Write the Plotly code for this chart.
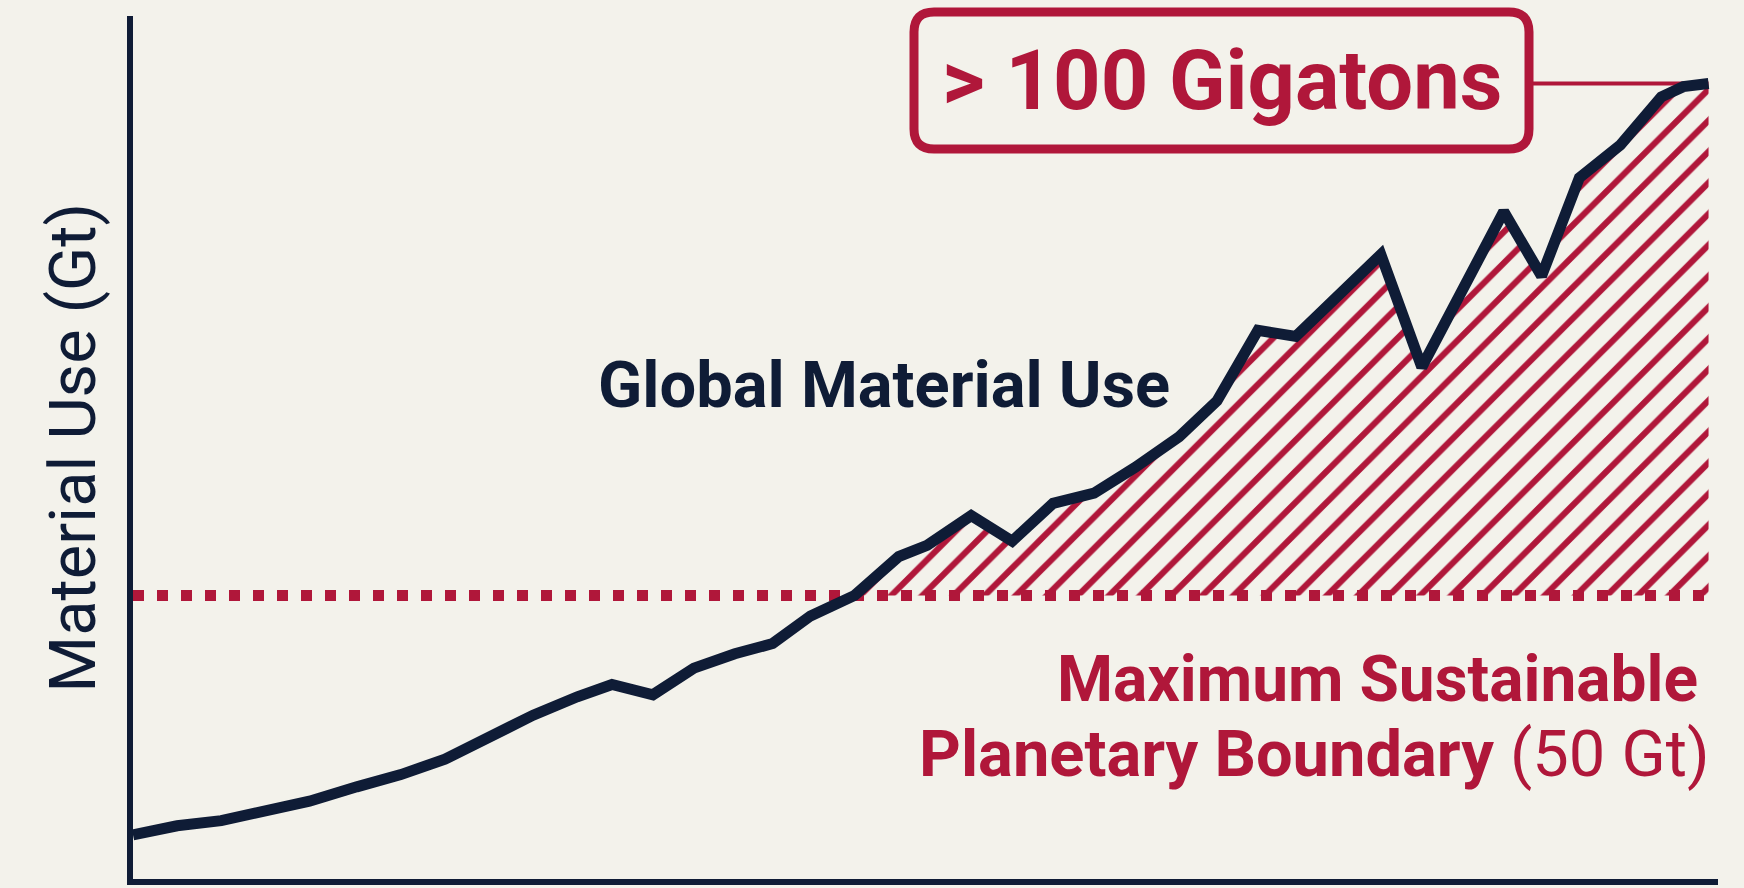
import plotly.graph_objects as go

# ---- data ----
years = [1970.0, 1971.4, 1972.8, 1974.2, 1975.6, 1977.1, 1978.5, 1979.9, 1981.3, 1982.7,
         1984.1, 1985.2, 1986.5, 1987.8, 1989.1, 1990.3, 1991.5, 1992.9, 1994.3, 1995.2,
         1996.6, 1997.9, 1999.2, 2000.5, 2001.8, 2003.2, 2004.4, 2005.7, 2006.9, 2008.3,
         2009.6, 2010.9, 2012.2, 2013.5, 2014.7, 2015.9, 2017.2, 2018.5, 2019.2, 2020.0]
material_use = [26.6, 27.5, 28.0, 28.9, 29.9, 31.3, 32.5, 34.0, 36.1, 38.3,
                40.1, 41.3, 40.3, 42.9, 44.3, 45.3, 48.0, 50.0, 53.8, 54.9,
                57.8, 55.3, 59.0, 60.0, 62.5, 65.5, 69.0, 75.9, 75.3, 79.3,
                83.3, 72.3, 79.9, 87.5, 81.2, 90.8, 94.0, 98.7, 99.7, 100.0]
boundary = 50

series_label = "Global Material Use"
callout_label = "> 100 Gigatons"
boundary_line1 = "Maximum Sustainable"
boundary_line2 = "Planetary Boundary"
boundary_value_label = "(50 Gt)"
y_title = "Material Use (Gt)"

# ---- style ----
BG = "#f3f2eb"
NAVY = "#0f1c36"
RED = "#b0173a"
FONT = "Roboto, sans-serif"

W, H = 1744, 888
L, R, T, B = 133, 26, 16, 9
XR = [1970, 2020.3]
YR = [22.3, 106.6]
PW, PH = W - L - R, H - T - B


def px_x(px):
    return (px - L) / PW


def px_y(py):
    return (H - B - py) / PH


def data_x(x):
    return (x - XR[0]) / (XR[1] - XR[0])


def data_y(y):
    return (y - YR[0]) / (YR[1] - YR[0])


# hatched region above the boundary
idx = next(i for i, v in enumerate(material_use) if v >= boundary)
if material_use[idx] == boundary or idx == 0:
    xc = years[idx]
else:
    x0, x1 = years[idx - 1], years[idx]
    y0, y1 = material_use[idx - 1], material_use[idx]
    xc = x0 + (boundary - y0) * (x1 - x0) / (y1 - y0)
hx = [xc] + years[idx:] + [years[-1], xc]
hy = [boundary] + material_use[idx:] + [boundary, boundary]

fig = go.Figure()
fig.add_trace(go.Scatter(
    x=hx, y=hy, mode="lines", fill="toself", line=dict(width=0, color="rgba(0,0,0,0)"),
    fillcolor="rgba(0,0,0,0)",
    fillpattern=dict(shape="/", fgcolor=RED, fgopacity=1, bgcolor="rgba(0,0,0,0)",
                     size=22, solidity=0.28),
    hoverinfo="skip", showlegend=False))
fig.add_trace(go.Scatter(
    x=[XR[0], years[-1]], y=[boundary, boundary], mode="lines",
    line=dict(color=RED, width=11, dash="11px,13px"), showlegend=False, hoverinfo="skip"))
fig.add_trace(go.Scatter(
    x=years, y=material_use, mode="lines", line=dict(color=NAVY, width=11),
    showlegend=False, name=series_label))

# rounded callout box
bx0, bx1, by0, by1, rr = 914, 1529, 12, 149, 20
X0, X1 = px_x(bx0), px_x(bx1)
Y0, Y1 = px_y(by0), px_y(by1)
rx, ry = rr / PW, rr / PH
path = (f"M {X0+rx},{Y0} L {X1-rx},{Y0} Q {X1},{Y0} {X1},{Y0-ry} "
        f"L {X1},{Y1+ry} Q {X1},{Y1} {X1-rx},{Y1} L {X0+rx},{Y1} "
        f"Q {X0},{Y1} {X0},{Y1+ry} L {X0},{Y0-ry} Q {X0},{Y0} {X0+rx},{Y0} Z")
shapes = [
    dict(type="line", xref="paper", yref="paper", x0=X1, x1=data_x(years[-1]),
         y0=data_y(material_use[-1]), y1=data_y(material_use[-1]),
         line=dict(color=RED, width=4), layer="below"),
    dict(type="path", xref="paper", yref="paper", path=path, fillcolor=BG,
         line=dict(color=RED, width=9)),
]

annotations = [
    dict(text=f"<b>{callout_label}</b>", xref="paper", yref="paper",
         x=(X0 + X1) / 2, y=(Y0 + Y1) / 2, xanchor="center", yanchor="middle",
         showarrow=False, font=dict(family=FONT, size=83, color=RED)),
    dict(text=f"<b>{series_label}</b>", xref="paper", yref="paper",
         x=px_x(884), y=px_y(385), xanchor="center", yanchor="middle",
         showarrow=False, font=dict(family=FONT, size=65, color=NAVY)),
    dict(text=f"<b>{boundary_line1}</b>", xref="paper", yref="paper",
         x=px_x(1700), y=px_y(679), xanchor="right", yanchor="middle",
         showarrow=False, font=dict(family=FONT, size=64, color=RED)),
    dict(text=f"<b>{boundary_line2}</b> {boundary_value_label}", xref="paper", yref="paper",
         x=px_x(1712), y=px_y(754), xanchor="right", yanchor="middle",
         showarrow=False, font=dict(family=FONT, size=65, color=RED)),
    dict(text=y_title, xref="paper", yref="paper", x=px_x(72), y=0.5,
         xanchor="center", yanchor="middle", textangle=-90,
         showarrow=False, font=dict(family=FONT, size=65, color=NAVY)),
]

fig.update_layout(
    width=W, height=H, margin=dict(l=L, r=R, t=T, b=B),
    paper_bgcolor=BG, plot_bgcolor=BG, showlegend=False,
    shapes=shapes, annotations=annotations,
    xaxis=dict(range=XR, showgrid=False, zeroline=False, showticklabels=False, ticks="",
               showline=True, linecolor=NAVY, linewidth=6),
    yaxis=dict(range=YR, showgrid=False, zeroline=False, showticklabels=False, ticks="",
               showline=True, linecolor=NAVY, linewidth=6),
)
fig.write_html("out.html", config={"displayModeBar": False},
               post_script=f"document.body.style.margin='0';document.body.style.background='{BG}';")
